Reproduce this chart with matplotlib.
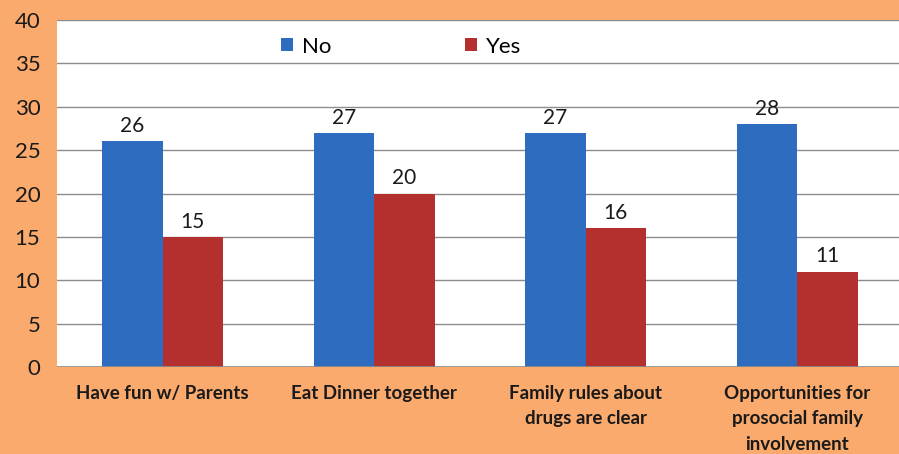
import matplotlib
matplotlib.use("Agg")
import matplotlib.pyplot as plt
import numpy as np

categories = ["Have fun w/ Parents", "Eat Dinner together",
              "Family rules about\ndrugs are clear",
              "Opportunities for\nprosocial family\ninvolvement"]
no_vals = [26, 27, 27, 28]
yes_vals = [15, 20, 16, 11]
yticks = [0, 5, 10, 15, 20, 25, 30, 35, 40]

bg = "#F9AA6C"
blue = "#2E6CBF"
red = "#B3302F"

plt.rcParams['font.family'] = ['Lato', 'DejaVu Sans']

fig = plt.figure(figsize=(8.99, 4.54), dpi=100, facecolor=bg)
W, H = 899, 454
left, right, top, bottom = 57, 903, 20, 367
ax = fig.add_axes([left / W, 1 - bottom / H, (right - left) / W, (bottom - top) / H])
ax.set_facecolor("white")

x = np.arange(len(categories))
w = 0.285
ax.bar(x - w / 2, no_vals, w, color=blue, label="No", zorder=3)
ax.bar(x + w / 2, yes_vals, w, color=red, label="Yes", zorder=3)

for xi, v in zip(x - w / 2, no_vals):
    ax.text(xi, v + 0.6, str(v), ha="center", va="bottom", fontsize=15, color="#1a1a1a")
for xi, v in zip(x + w / 2, yes_vals):
    ax.text(xi, v + 0.6, str(v), ha="center", va="bottom", fontsize=15, color="#1a1a1a")

ax.set_xlim(-0.5, 3.5)
ax.set_ylim(0, 40)
ax.set_yticks(yticks)
ax.set_yticklabels([str(t) for t in yticks], fontsize=16, color="#1a1a1a")
ax.yaxis.grid(True, color="#8c8c8c", linewidth=1.0, zorder=0)
ax.tick_params(axis="y", length=0, pad=12)
ax.set_xticks(x)
ax.set_xticklabels(categories, fontsize=13.5, fontweight="bold", color="#1a1a1a",
                   linespacing=1.6, va="top")
ax.tick_params(axis="x", length=0, pad=13)
for s in ax.spines.values():
    s.set_visible(False)
ax.axhline(0, color="#8c8c8c", linewidth=1.2, zorder=4)

leg = ax.legend(loc="upper left", bbox_to_anchor=(0.241, 1.01), ncol=2, frameon=False,
                fontsize=16, handlelength=0.55, handleheight=0.55, columnspacing=6.0,
                handletextpad=0.4)

fig.savefig("out.png", dpi=100, facecolor=bg)
